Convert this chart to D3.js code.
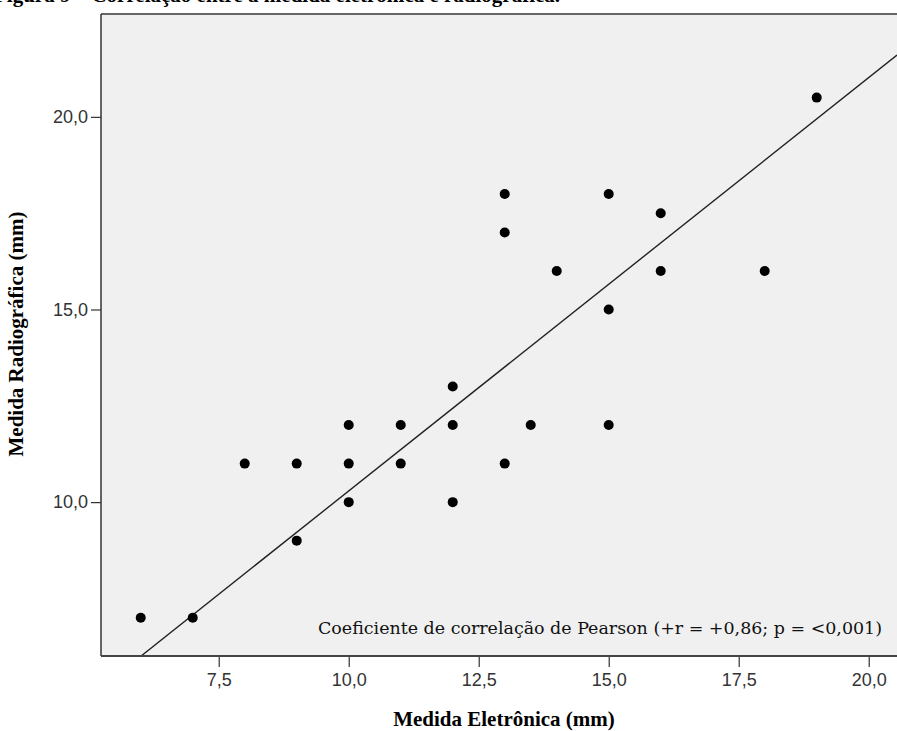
<!DOCTYPE html>
<html><head><meta charset="utf-8">
<script src="https://cdn.jsdelivr.net/npm/d3@7"></script>
<style>html,body{margin:0;padding:0;background:#fff;}svg{display:block;}</style>
</head><body>
<script>
// Data
const eletronica   = [6, 7, 8, 9, 9, 10, 10, 10, 11, 11, 12, 12, 12, 13, 13, 13, 13.5, 14, 15, 15, 15, 16, 16, 18, 19];
const radiografica = [7, 7, 11, 11, 9, 12, 11, 10, 12, 11, 13, 12, 10, 18, 17, 11, 12, 16, 18, 15, 12, 17.5, 16, 16, 20.5];
const xTicks = [7.5, 10, 12.5, 15, 17.5, 20];
const yTicks = [10, 15, 20];
const fitLine = {slope: 1.073, intercept: -0.44};
const titleText = "Figura 9 – Correlação entre a medida eletrônica e radiográfica.";
const xTitle = "Medida Eletrônica (mm)";
const yTitle = "Medida Radiográfica (mm)";
const note = "Coeficiente de correlação de Pearson (+r = +0,86; p = <0,001)";

const W = 897, H = 731;
const L = 101, R = 897, T = 14, B = 656;
const svg = d3.select("body").append("svg").attr("width", W).attr("height", H);
svg.append("rect").attr("width", W).attr("height", H).attr("fill", "#fff");

const x = d3.scaleLinear().domain([5.236, 20.544]).range([L, R]);
const y = d3.scaleLinear().domain([6.006, 22.67]).range([B, T]);
const fmt = v => d3.format(".1f")(v).replace(".", ",");

// title (cut at the top edge as in the source image)
svg.append("text").attr("x", -6).attr("y", 1.5)
  .attr("font-family", "Liberation Serif, serif").attr("font-weight", "bold")
  .attr("font-size", 21).attr("fill", "#000").text(titleText);

// plot background
svg.append("rect").attr("x", L).attr("y", T).attr("width", R - L).attr("height", B - T).attr("fill", "#f0f0f0");

svg.append("clipPath").attr("id", "c").append("rect")
  .attr("x", L).attr("y", T).attr("width", R - L).attr("height", B - T);

// fit line
const x0 = (y.domain()[0] - fitLine.intercept) / fitLine.slope;
const x1 = x.domain()[1];
svg.append("line").attr("clip-path", "url(#c)")
  .attr("x1", x(x0)).attr("y1", y(fitLine.slope * x0 + fitLine.intercept))
  .attr("x2", x(x1)).attr("y2", y(fitLine.slope * x1 + fitLine.intercept))
  .attr("stroke", "#222").attr("stroke-width", 1.4);

// points
svg.append("g").selectAll("circle").data(eletronica.map((d, i) => [d, radiografica[i]]))
  .join("circle").attr("cx", d => x(d[0])).attr("cy", d => y(d[1])).attr("r", 5).attr("fill", "#000");

// note
svg.append("text").attr("x", 882).attr("y", 634).attr("text-anchor", "end")
  .attr("font-family", "DejaVu Serif, serif").attr("font-size", 16).attr("fill", "#111")
  .attr("textLength", 564).attr("lengthAdjust", "spacingAndGlyphs").text(note);

// axes
const xAxis = svg.append("g").attr("transform", `translate(0,${B})`)
  .call(d3.axisBottom(x).tickValues(xTicks).tickFormat(fmt).tickSize(11).tickPadding(6));
const yAxis = svg.append("g").attr("transform", `translate(${L},0)`)
  .call(d3.axisLeft(y).tickValues(yTicks).tickFormat(fmt).tickSize(10).tickPadding(3));
[xAxis, yAxis].forEach(g => {
  g.select(".domain").remove();
  g.selectAll(".tick line").attr("stroke", "#333").attr("stroke-width", 1.2);
  g.selectAll(".tick text").attr("font-family", "Liberation Sans, Arial, sans-serif")
    .attr("font-size", 18).attr("fill", "#333");
});

// frame lines
svg.append("line").attr("x1", L).attr("x2", R).attr("y1", T).attr("y2", T).attr("stroke", "#666").attr("stroke-width", 2);
svg.append("line").attr("x1", L).attr("x2", L).attr("y1", T).attr("y2", B).attr("stroke", "#333").attr("stroke-width", 1.5);
svg.append("line").attr("x1", L).attr("x2", R).attr("y1", B).attr("y2", B).attr("stroke", "#444").attr("stroke-width", 1.8);

// axis titles
svg.append("text").attr("x", 504).attr("y", 726).attr("text-anchor", "middle")
  .attr("font-family", "Liberation Serif, serif").attr("font-weight", "bold").attr("font-size", 21)
  .text(xTitle);
svg.append("text").attr("transform", "translate(23,334) rotate(-90)").attr("text-anchor", "middle")
  .attr("font-family", "Liberation Serif, serif").attr("font-weight", "bold").attr("font-size", 21)
  .text(yTitle);
</script>
</body></html>
